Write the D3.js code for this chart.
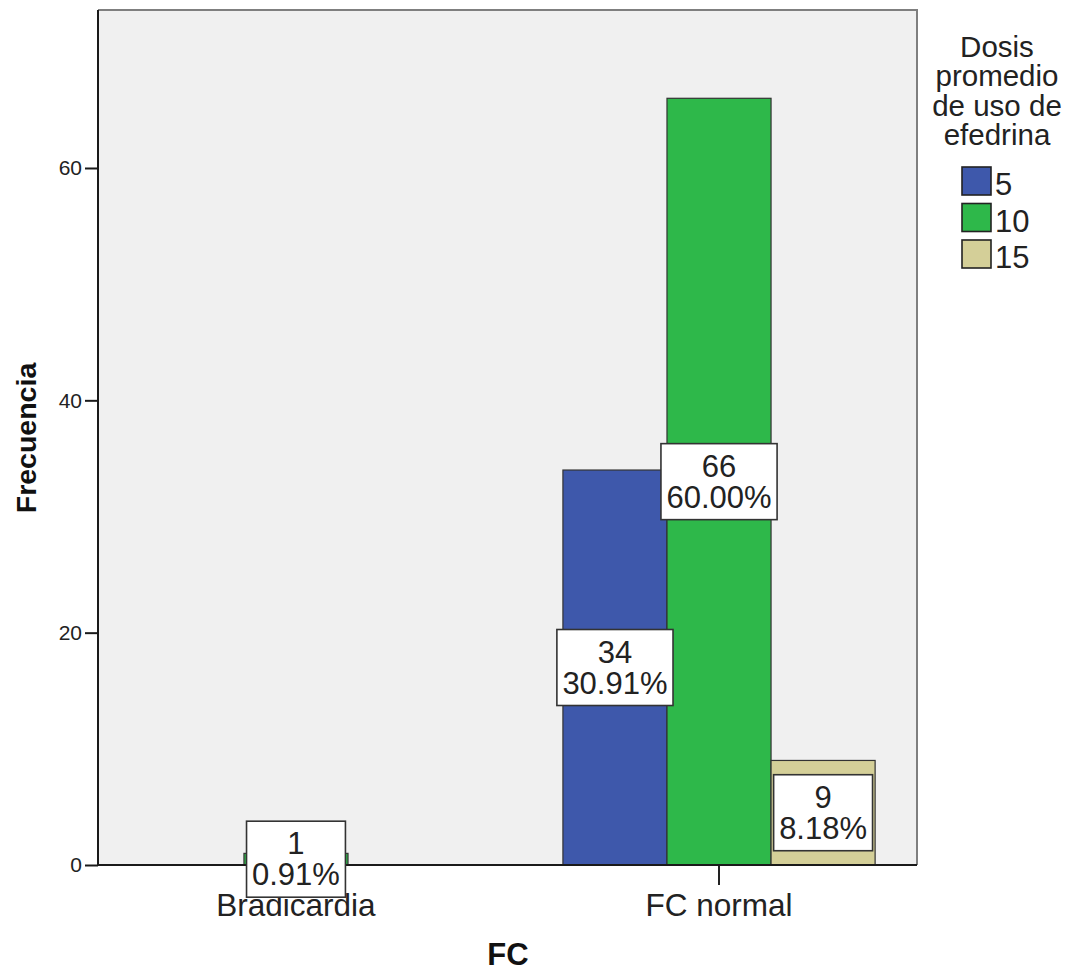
<!DOCTYPE html>
<html>
<head>
<meta charset="utf-8">
<script src="https://cdn.jsdelivr.net/npm/d3@7"></script>
<style>
  html, body { margin: 0; padding: 0; background: #ffffff; }
  svg { display: block; font-family: "Liberation Sans", Arial, sans-serif; }
</style>
</head>
<body>
<svg id="chart" width="1073" height="971"></svg>
<script>
// Heart-rate category (FC) on the x axis
const categories = ["Bradicardia", "FC normal"];
// Average ephedrine dose groups
const doses = ["5", "10", "15"];
// Counts per category, one entry per dose group (null = no bar)
const countsBradicardia = [null, 1, null];
const countsNormal = [34, 66, 9];
// y-axis tick values
const yTicks = [0, 20, 40, 60];

const colors = ["#3e58ab", "#2eb84a", "#d4cf98"];

const countsByCategory = [countsBradicardia, countsNormal];
const total = d3.sum(countsByCategory.flat().filter(v => v != null));

const svg = d3.select("#chart");
const plotLeft = 98, plotRight = 917, plotTop = 10, plotBottom = 865;
const textColor = "#222";

const x = d3.scalePoint().domain(categories).range([plotLeft, plotRight]).padding(0.468);
const y = d3.scaleLinear().domain([0, 73.6]).range([plotBottom, plotTop]);
const barW = x.step() * 0.246;

// plot background
svg.append("rect")
  .attr("x", plotLeft).attr("y", plotTop)
  .attr("width", plotRight - plotLeft).attr("height", plotBottom - plotTop)
  .attr("fill", "#f0f0f0");

// top / right border
svg.append("path")
  .attr("d", `M${plotLeft},${plotTop}H${plotRight}V${plotBottom}`)
  .attr("fill", "none").attr("stroke", "#7f7f7f").attr("stroke-width", 2);

// build bar records, centring the present bars on each category
const bars = [];
categories.forEach((c, ci) => {
  const present = countsByCategory[ci]
    .map((v, di) => ({ v, di }))
    .filter(d => d.v != null);
  const start = x(c) - present.length * barW / 2;
  present.forEach((d, k) => {
    bars.push({ cat: c, dose: doses[d.di], di: d.di, value: d.v,
                x0: start + k * barW });
  });
});

// x-axis tick marks (under the label boxes)
svg.append("g").selectAll("line").data(categories).join("line")
  .attr("x1", d => x(d)).attr("x2", d => x(d))
  .attr("y1", plotBottom).attr("y2", plotBottom + 20)
  .attr("stroke", "#222").attr("stroke-width", 2);

// bars
svg.append("g").selectAll("rect").data(bars).join("rect")
  .attr("x", d => d.x0)
  .attr("y", d => y(d.value))
  .attr("width", barW)
  .attr("height", d => y(0) - y(d.value))
  .attr("fill", d => colors[d.di])
  .attr("stroke", "#333")
  .attr("stroke-width", 1.2);

// axis lines
svg.append("line").attr("x1", plotLeft).attr("x2", plotLeft).attr("y1", plotTop).attr("y2", plotBottom)
  .attr("stroke", "#1a1a1a").attr("stroke-width", 2);
svg.append("line").attr("x1", plotLeft).attr("x2", plotRight).attr("y1", plotBottom).attr("y2", plotBottom)
  .attr("stroke", "#1a1a1a").attr("stroke-width", 2);

// y axis ticks and labels
const yAxis = svg.append("g").attr("transform", `translate(${plotLeft},0)`)
  .call(d3.axisLeft(y).tickValues(yTicks).tickSize(13).tickFormat(d3.format("d")));
yAxis.select(".domain").remove();
yAxis.selectAll(".tick line").attr("stroke", "#1a1a1a").attr("stroke-width", 2);
yAxis.selectAll(".tick text")
  .attr("font-family", "Liberation Sans, Arial, sans-serif")
  .attr("font-size", 21).attr("fill", textColor).attr("x", -16);

// category labels
svg.append("g").selectAll("text").data(categories).join("text")
  .attr("x", d => x(d)).attr("y", 916)
  .attr("text-anchor", "middle")
  .attr("font-size", 31.5).attr("fill", textColor)
  .text(d => d);

// value / percentage boxes
const lbl = svg.append("g").selectAll("g").data(bars).join("g");
lbl.each(function(d) {
  const g = d3.select(this);
  const cx = d.x0 + barW / 2;
  const cy = (y(d.value) + y(0)) / 2;
  const lines = [String(d.value), (d.value / total * 100).toFixed(2) + "%"];
  const rect = g.append("rect");
  const texts = g.selectAll("text").data(lines).join("text")
    .attr("x", cx)
    .attr("y", (t, i) => cy - 5 + i * 31)
    .attr("text-anchor", "middle")
    .attr("font-size", 31).attr("fill", textColor)
    .text(t => t);
  let w = 0;
  texts.each(function() { w = Math.max(w, this.getComputedTextLength()); });
  w += 11;
  rect.attr("x", cx - w / 2).attr("y", cy - 38)
    .attr("width", w).attr("height", 76)
    .attr("fill", "#ffffff").attr("stroke", "#333").attr("stroke-width", 1.6);
});

// axis titles
svg.append("text")
  .attr("transform", `translate(36,438) rotate(-90)`)
  .attr("text-anchor", "middle")
  .attr("font-size", 28.5).attr("font-weight", "bold").attr("fill", "#111")
  .text("Frecuencia");
svg.append("text")
  .attr("x", 508).attr("y", 965)
  .attr("text-anchor", "middle")
  .attr("font-size", 31).attr("font-weight", "bold").attr("fill", "#111")
  .text("FC");

// legend
const legendTitle = ["Dosis", "promedio", "de uso de", "efedrina"];
svg.append("g").selectAll("text").data(legendTitle).join("text")
  .attr("x", 997).attr("y", (d, i) => 57 + i * 29.3)
  .attr("text-anchor", "middle")
  .attr("font-size", 29.5).attr("fill", textColor)
  .text(d => d);

const leg = svg.append("g").selectAll("g").data(doses).join("g")
  .attr("transform", (d, i) => `translate(962,${167 + i * 36.5})`);
leg.append("rect")
  .attr("width", 29).attr("height", 28)
  .attr("fill", (d, i) => colors[i])
  .attr("stroke", "#222").attr("stroke-width", 1.6);
leg.append("text")
  .attr("x", 33).attr("y", 28)
  .attr("font-size", 31).attr("fill", textColor)
  .text(d => d);
</script>
</body>
</html>
